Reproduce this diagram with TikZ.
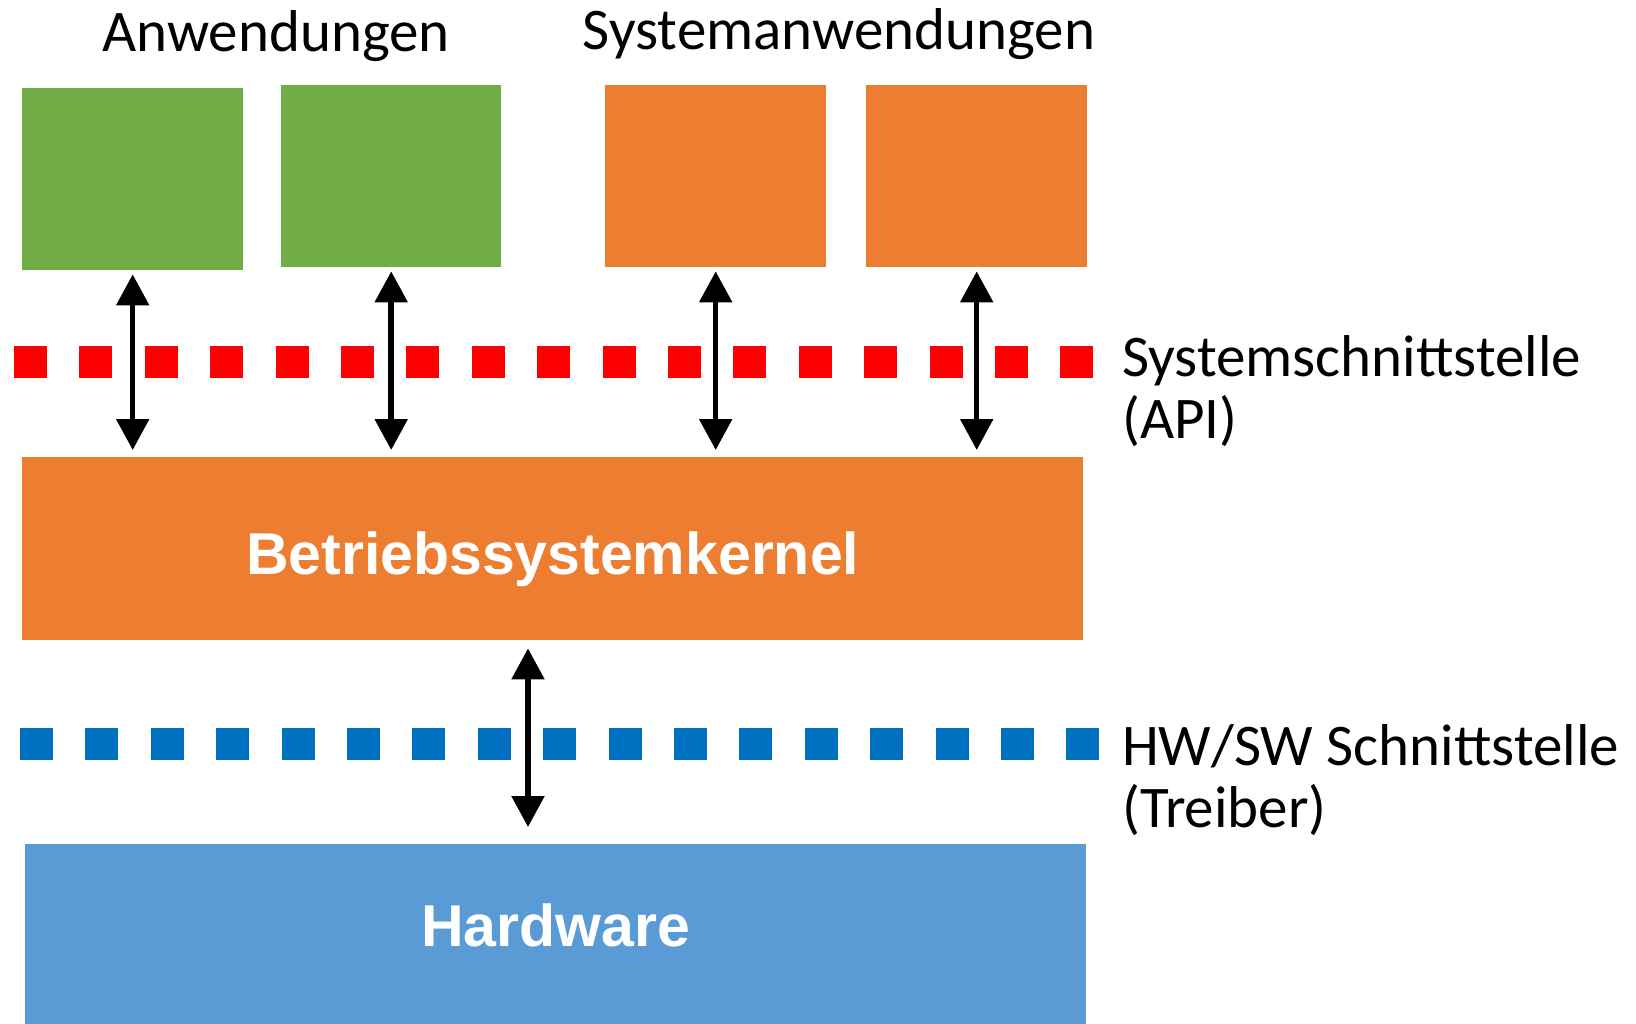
\documentclass[tikz,border=0pt]{standalone}
\usepackage{fontspec}
\setmainfont{Carlito}
\newfontfamily\headfont{Liberation Sans}
\usetikzlibrary{arrows.meta}

\definecolor{appgreen}{HTML}{70AD47}
\definecolor{sysorange}{HTML}{ED7D31}
\definecolor{hwblue}{HTML}{5B9BD5}
\definecolor{apired}{HTML}{FF0000}
\definecolor{drvblue}{HTML}{0070C0}

\begin{document}
\begin{tikzpicture}[x=1pt,y=-1pt,
  layer/.style={draw=none, inner sep=0pt, anchor=north west},
  layertext/.style={text=white, font=\headfont\bfseries\fontsize{59}{70}\selectfont, text depth=0pt},
  caption/.style={inner sep=0pt, font=\fontsize{59}{62}\selectfont},
  dotline/.style={line width=32pt, dash pattern=on 33pt off 32.4pt},
  biarrow/.style={line width=5.5pt, {Triangle[width=32pt,length=31pt]}-{Triangle[width=32pt,length=31pt]}}]
\useasboundingbox (0,0) rectangle (1636,1024);

% application boxes
\node[layer, fill=appgreen,  minimum width=221pt, minimum height=182pt] (app1) at (22,88) {};
\node[layer, fill=appgreen,  minimum width=220pt, minimum height=182pt] (app2) at (281,85) {};
\node[layer, fill=sysorange, minimum width=221pt, minimum height=182pt] (sys1) at (605,85) {};
\node[layer, fill=sysorange, minimum width=221pt, minimum height=182pt] (sys2) at (866,85) {};

% kernel and hardware layers
\node[layer, fill=sysorange, minimum width=1061pt, minimum height=183pt,
      layertext, text height=51pt] (kernel) at (22,457) {Betriebssystemkernel};
\node[layer, fill=hwblue, minimum width=1061pt, minimum height=182pt,
      layertext, text height=22pt] (hw) at (25,844) {Hardware};

% group captions
\node[caption, anchor=base] (apps) at (276,52) {Anwendungen};
\node[caption, anchor=base] (sysapps) at (839,50) {Systemanwendungen};

% interface lines
\coordinate (apiL) at (14,362);
\coordinate (apiR) at (1094,362);
\coordinate (drvL) at (20,744);
\coordinate (drvR) at (1100,744);
\draw[dotline, apired] (apiL) -- (apiR);
\draw[dotline, drvblue] (drvL) -- (drvR);

% interface names (anchored at the baseline of the second line)
\node[caption, anchor=base west, align=left] (api) at (1122,438) {Systemschnittstelle\\(API)};
\node[caption, anchor=base west, align=left] (drv) at (1122,827) {HW/SW Schnittstelle\\(Treiber)};

% calls between layers
\foreach \b in {app1,app2,sys1,sys2}
  \draw[biarrow, shorten <=4pt, shorten >=7pt] (\b.south) -- (\b.south |- kernel.north);
\coordinate (drvx) at (528,0);
\draw[biarrow, shorten <=8pt, shorten >=17pt] (kernel.south -| drvx) -- (hw.north -| drvx);
\end{tikzpicture}
\end{document}
